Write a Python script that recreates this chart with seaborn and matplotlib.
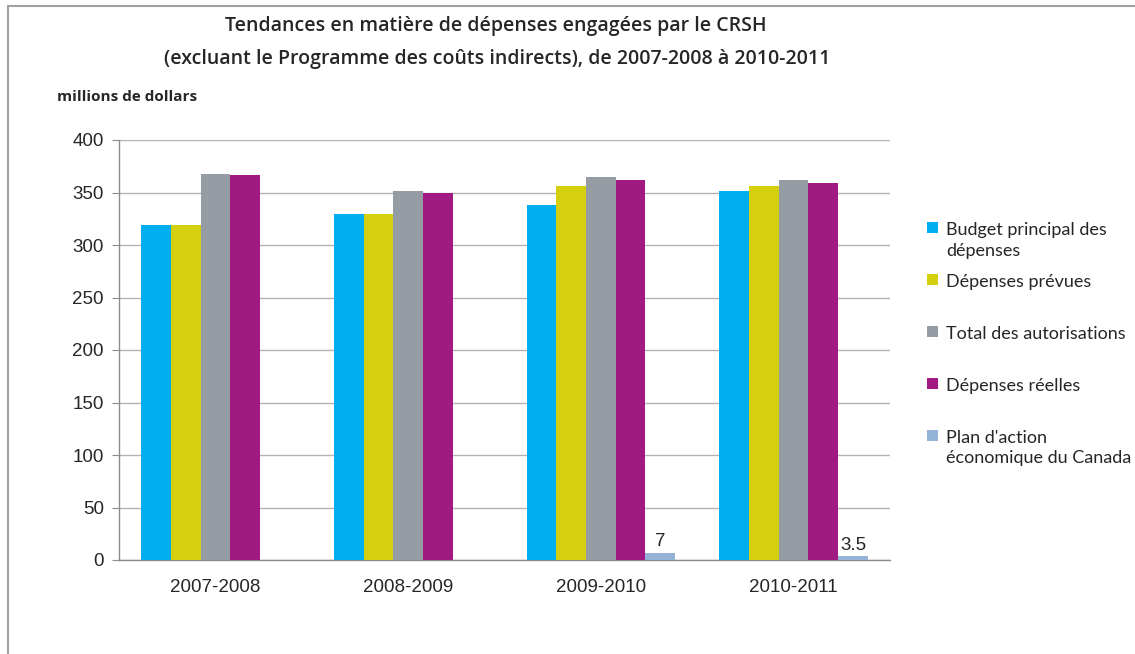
import pandas as pd
import numpy as np
import matplotlib.pyplot as plt
import seaborn as sns
from matplotlib.patches import Patch
from matplotlib.lines import Line2D

years = ["2007-2008", "2008-2009", "2009-2010", "2010-2011"]
series = ["Budget principal des dépenses", "Dépenses prévues", "Total des autorisations",
          "Dépenses réelles", "Plan d'action économique du Canada"]
legend_labels = ["Budget principal des\ndépenses", "Dépenses prévues\n", "Total des autorisations\n",
                 "Dépenses réelles\n", "Plan d'action\néconomique du Canada"]
budget = [319, 330, 338, 351]
prevues = [319, 330, 356, 356]
autorisations = [368, 351, 365, 362]
reelles = [367, 350, 362, 359]
plan_action = [0, 0, 7, 3.5]
colors = ["#00AEEF", "#D4D00F", "#959CA4", "#A11A82", "#95B3D7"]

rows = []
for name, vals in zip(series, [budget, prevues, autorisations, reelles, plan_action]):
    for y, v in zip(years, vals):
        rows.append({"Année": y, "Série": name, "Valeur": v})
df = pd.DataFrame(rows)

sns.set_style("white")
plt.rcParams["font.family"] = ["Liberation Sans", "DejaVu Sans"]

fig = plt.figure(figsize=(11.35, 6.54), dpi=100)
ax = fig.add_axes([119 / 1135, 1 - 560 / 654, 771 / 1135, 420 / 654])

sns.barplot(data=df, x="Année", y="Valeur", hue="Série", palette=colors, width=0.77,
            saturation=1, ax=ax, legend=False, errorbar=None, zorder=3, linewidth=0)

ax.set_ylim(0, 400)
ax.set_xlim(-0.5, 3.5)
ax.set_yticks(np.arange(0, 401, 50))
ax.yaxis.grid(True, color="#B3B3B3", linewidth=1, zorder=0)
ax.set_axisbelow(True)
ax.set_xlabel("")
ax.set_ylabel("")
for s in ["top", "right"]:
    ax.spines[s].set_visible(False)
for s in ["left", "bottom"]:
    ax.spines[s].set_color("#8C8C8C")
    ax.spines[s].set_linewidth(1)
ax.set_xticks(np.arange(-0.5, 3.6, 1), minor=True)
ax.tick_params(axis="x", which="major", length=0, labelsize=13.5, pad=14)
ax.tick_params(axis="x", which="minor", length=6, color="#8C8C8C", direction="out")
ax.tick_params(axis="y", length=5, color="#8C8C8C", labelsize=13.5, pad=6, left=True)

plan_bars = ax.containers[4]
ax.bar_label(plan_bars, labels=[f"{v:g}" if v else "" for v in plan_action],
             fontsize=13.5, padding=2)

fig.text(0.437, 1 - 26 / 654, "Tendances en matière de dépenses engagées par le CRSH",
         ha="center", va="center", fontsize=14, fontweight="semibold", family="Open Sans")
fig.text(0.438, 1 - 59 / 654,
         "(excluant le Programme des coûts indirects), de 2007-2008 à 2010-2011",
         ha="center", va="center", fontsize=14, fontweight="semibold", family="Open Sans")
fig.text(57 / 1135, 1 - 97 / 654, "millions de dollars", ha="left", va="center",
         fontsize=11, fontweight="bold", family="Open Sans")

handles = [Patch(facecolor=c, edgecolor="none") for c in colors]
leg = fig.legend(handles, legend_labels, loc="upper left",
                 bbox_to_anchor=(918 / 1135, 1 - 213 / 654), frameon=False,
                 prop={"family": "Lato", "size": 13}, handlelength=0.6,
                 handleheight=0.6, handletextpad=0.45, labelspacing=0.85, borderpad=0)
for t in leg.get_texts():
    t.set_linespacing(1.35)
for col in leg._legend_handle_box.get_children():
    for row in col.get_children():
        row.align = "top"

fig.add_artist(Line2D([8 / 1135, 1], [1 - 6 / 654, 1 - 6 / 654], color="#A0A0A0", lw=1.5))
fig.add_artist(Line2D([8 / 1135, 8 / 1135], [0, 1 - 6 / 654], color="#A0A0A0", lw=1.5))

fig.savefig("out.png", dpi=100)
